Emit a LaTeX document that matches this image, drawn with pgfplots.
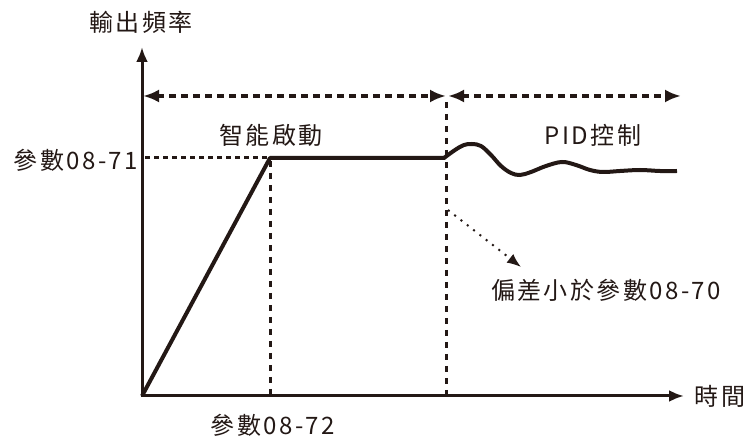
\documentclass[border=0pt]{standalone}
\usepackage{pgfplots}
\pgfplotsset{compat=1.18}
\usepackage{fontspec}
\setmainfont[LetterSpace=10]{Noto Sans CJK TC}
\usetikzlibrary{arrows.meta}
\definecolor{ink}{HTML}{231815}
\newcommand{\lf}{\fontsize{24}{28}\selectfont}
\begin{document}
\begin{tikzpicture}[x=1pt,y=1pt]
\begin{axis}[
  hide axis, scale only axis, width=753pt, height=439pt,
  xmin=0, xmax=753, ymin=0, ymax=439, clip=false,
]
% bounding box
\addplot[draw=none] coordinates {(0,0) (753,439)};
% axes
\addplot[ink, line width=3pt, -{Latex[length=15pt,width=12pt]}] coordinates {(142,43) (142,392)};
\addplot[ink, line width=3pt, -{Latex[length=15pt,width=12pt]}] coordinates {(141,43) (684,43)};
% top dashed double arrows
\addplot[ink, line width=3.5pt, dash pattern=on 7pt off 5pt, {Latex[length=16pt,width=13pt]}-{Latex[length=16pt,width=13pt]}] coordinates {(143,343) (446,343)};
\addplot[ink, line width=3.5pt, dash pattern=on 7pt off 5pt, {Latex[length=16pt,width=13pt]}-{Latex[length=16pt,width=13pt]}] coordinates {(448,343) (681,343)};
% reference lines
\addplot[ink, line width=3pt, dash pattern=on 5pt off 4pt] coordinates {(145,281) (268,281)};
\addplot[ink, line width=3pt, dash pattern=on 6pt off 6pt] coordinates {(270,278) (270,45)};
\addplot[ink, line width=3pt, dash pattern=on 6pt off 6pt] coordinates {(446,337) (446,45)};
% dotted pointer
\addplot[ink, line width=2pt, dash pattern=on 2pt off 6pt, -{Latex[length=14pt,width=11pt]}] coordinates {(448,229) (521,172)};
% output curve
\addplot[ink, line width=4pt, line join=round] coordinates {(142,43) (270,281) (445,281)};
\addplot[ink, line width=4pt, smooth, tension=0.6] coordinates {
 (444,281) (455,289) (464,294) (472,295) (481,293) (491,284) (501,273)
 (511,266) (520,264) (531,267) (546,273) (562,277) (576,274) (590,269)
 (603,267) (620,268) (640,269) (660,268) (677,268)};
% texts
\node[text=ink, inner sep=0pt] at (axis cs:141,417) {\lf 輸出頻率};
\node[text=ink, inner sep=0pt] at (axis cs:720,43) {\lf 時間};
\node[text=ink, inner sep=0pt, anchor=east] at (axis cs:138,279) {\lf 參數08-71};
\node[text=ink, inner sep=0pt] at (axis cs:271,304) {\lf 智能啟動};
\node[text=ink, inner sep=0pt] at (axis cs:593,304) {\lf PID控制};
\node[text=ink, inner sep=0pt] at (axis cs:606,149) {\lf 偏差小於參數08-70};
\node[text=ink, inner sep=0pt] at (axis cs:273,14) {\lf 參數08-72};
\end{axis}
\end{tikzpicture}
\end{document}
